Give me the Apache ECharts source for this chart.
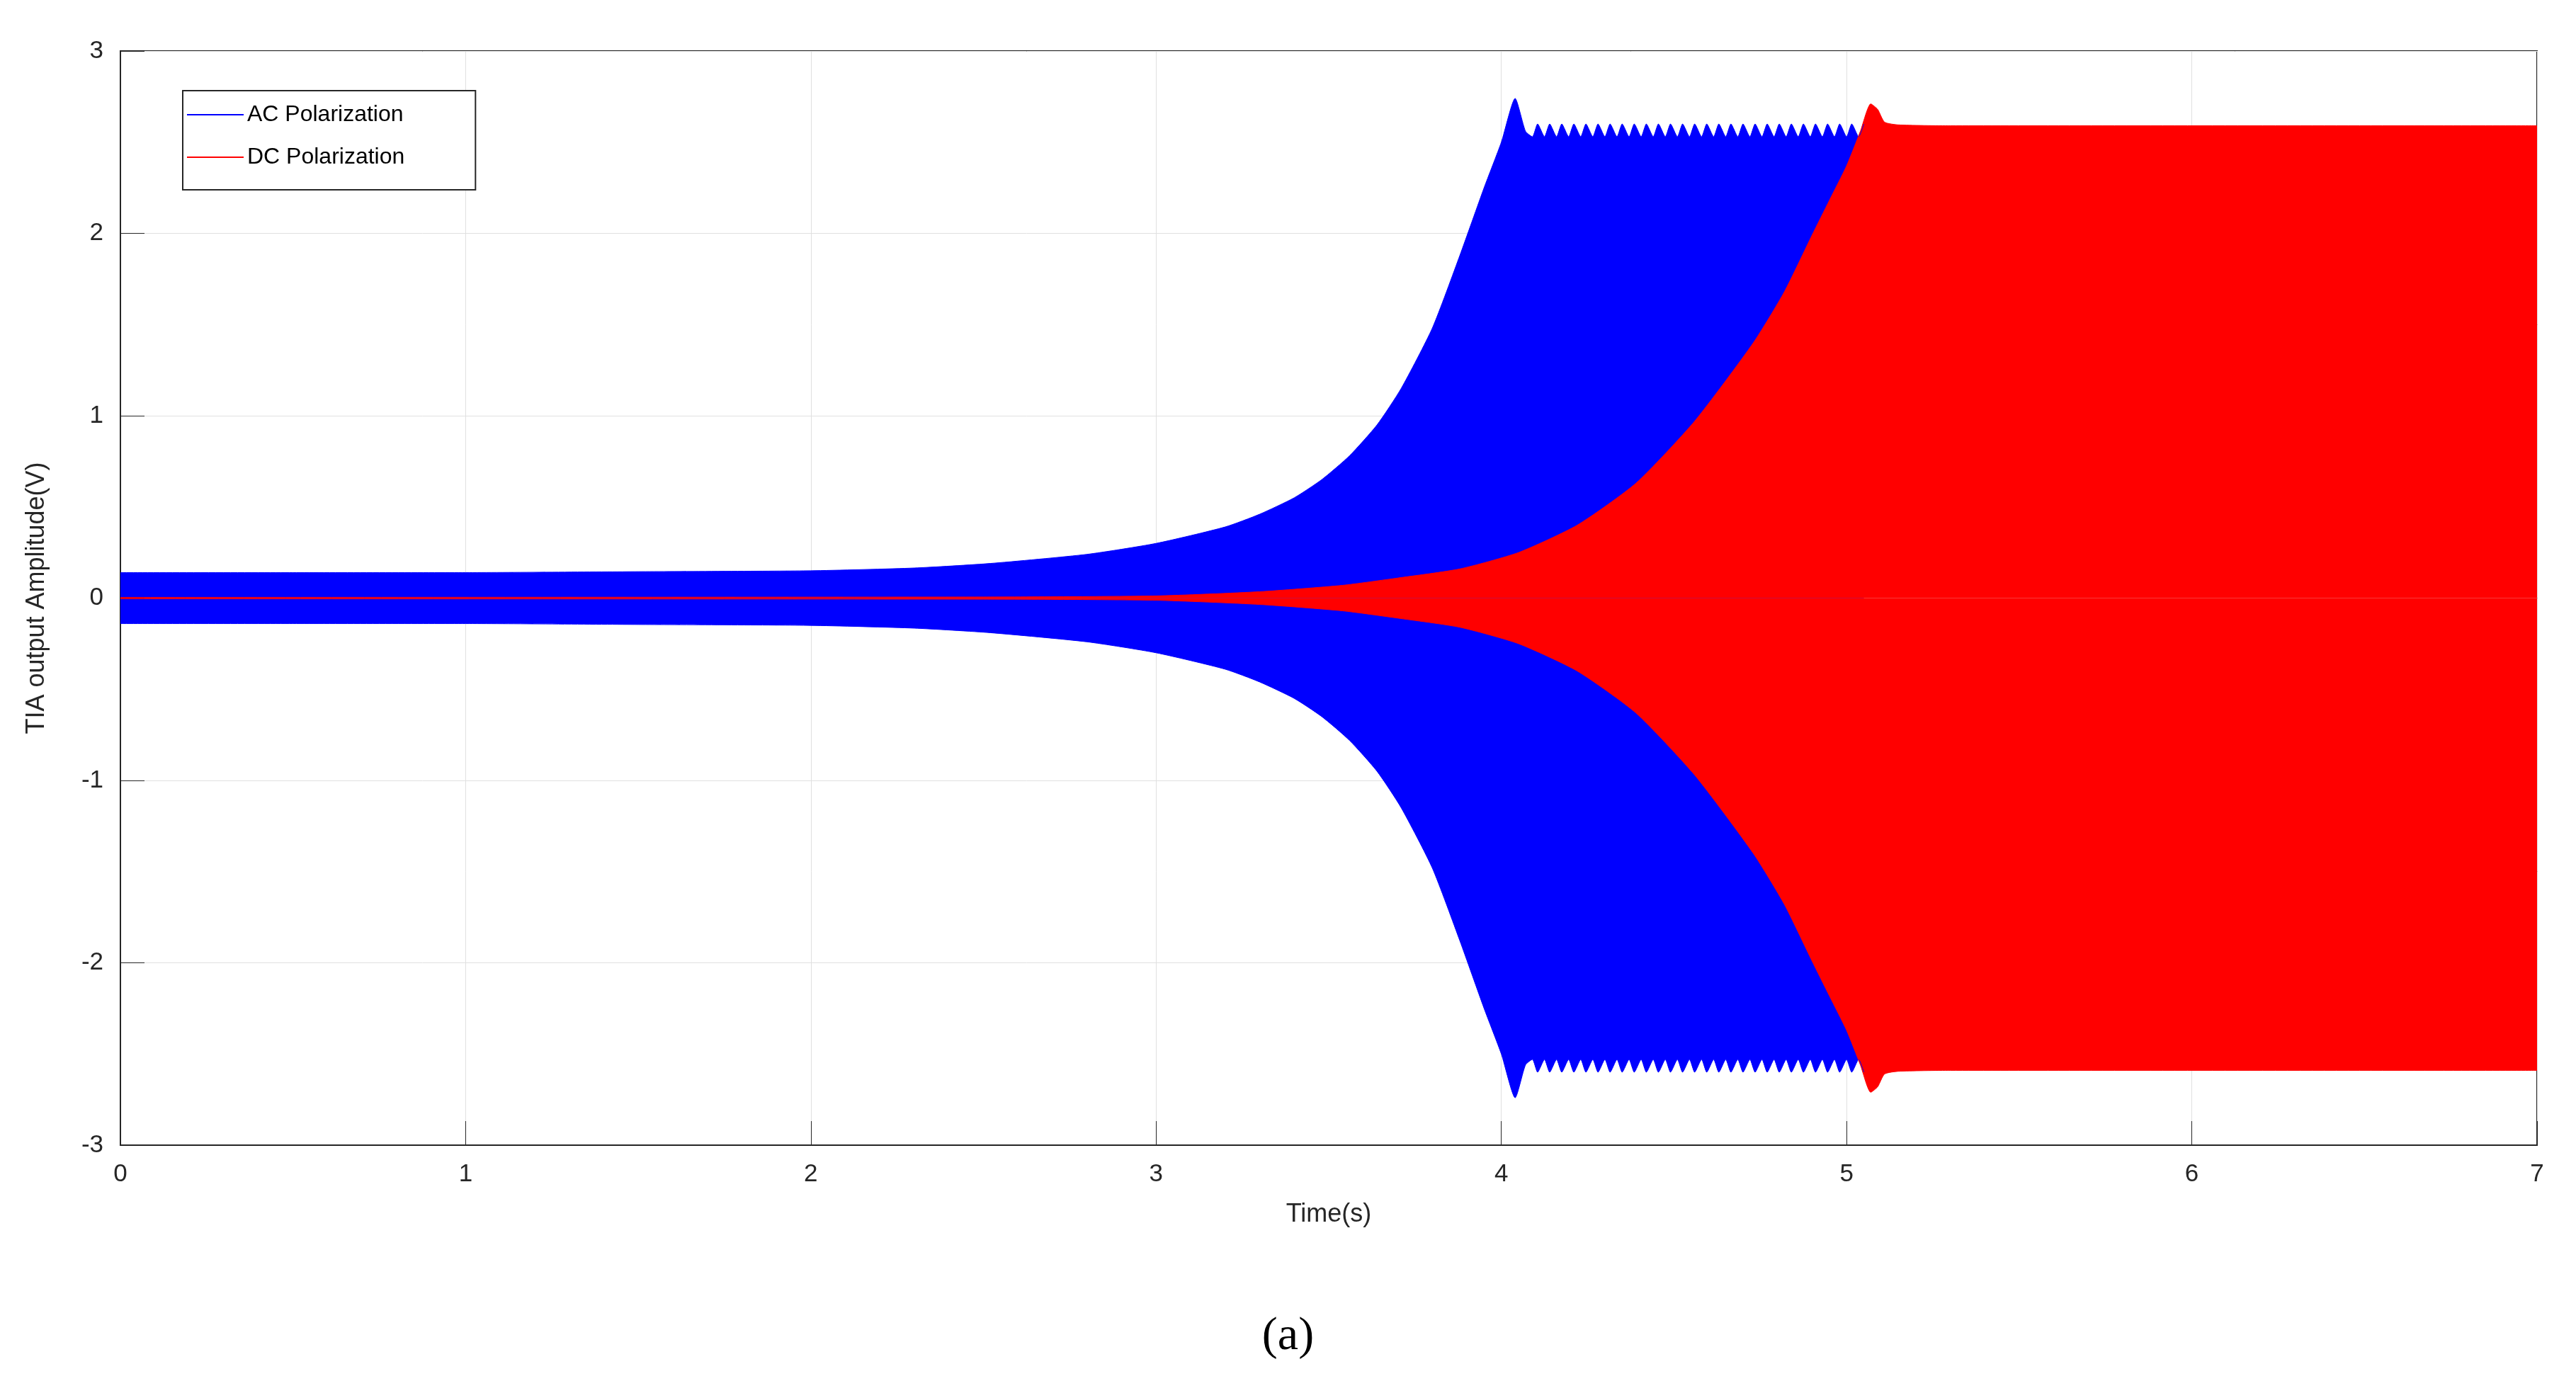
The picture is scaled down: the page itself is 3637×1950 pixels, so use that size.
<!DOCTYPE html>
<html>
<head>
<meta charset="utf-8">
<script src="https://cdn.jsdelivr.net/npm/echarts@6/dist/echarts.min.js"></script>
<style>
  html, body { margin: 0; padding: 0; background: #fff; }
  #chart { width: 3637px; height: 1950px; }
</style>
</head>
<body>
<div id="chart"></div>
<script>
// envelope of the AC polarization response (upper / lower)
const acTime = [0, 0.5, 1, 1.5, 2, 2.3, 2.52, 2.8, 3, 3.2, 3.3, 3.4, 3.48, 3.56, 3.64, 3.71, 3.8, 3.88, 3.95, 4.0, 4.04, 4.07,
  4.09, 4.105, 4.125, 4.14, 4.16, 4.175, 4.195, 4.21, 4.23, 4.245, 4.265, 4.28, 4.3, 4.315, 4.335, 4.35,
  4.37, 4.385, 4.405, 4.42, 4.44, 4.455, 4.475, 4.49, 4.51, 4.525, 4.545, 4.56, 4.58, 4.595, 4.615, 4.63,
  4.65, 4.665, 4.685, 4.7, 4.72, 4.735, 4.755, 4.77, 4.79, 4.805, 4.825, 4.84, 4.86, 4.875, 4.895, 4.91,
  4.93, 4.945, 4.965, 4.98, 5.0, 5.015, 5.035, 5.05];
const acUpper = [0.14, 0.14, 0.14, 0.145, 0.15, 0.165, 0.19, 0.24, 0.30, 0.39, 0.46, 0.55, 0.65, 0.78, 0.95, 1.15, 1.48, 1.88, 2.25, 2.5, 2.74, 2.56,
  2.53, 2.6, 2.53, 2.6, 2.53, 2.6, 2.53, 2.6, 2.53, 2.6, 2.53, 2.6, 2.53, 2.6, 2.53, 2.6,
  2.53, 2.6, 2.53, 2.6, 2.53, 2.6, 2.53, 2.6, 2.53, 2.6, 2.53, 2.6, 2.53, 2.6, 2.53, 2.6,
  2.53, 2.6, 2.53, 2.6, 2.53, 2.6, 2.53, 2.6, 2.53, 2.6, 2.53, 2.6, 2.53, 2.6, 2.53, 2.6,
  2.53, 2.6, 2.53, 2.6, 2.53, 2.6, 2.53, 2.6];
const acLower = [-0.14, -0.14, -0.14, -0.145, -0.15, -0.165, -0.19, -0.24, -0.30, -0.39, -0.46, -0.55, -0.65, -0.78, -0.95, -1.15, -1.48, -1.88, -2.25, -2.5, -2.74, -2.56,
  -2.53, -2.6, -2.53, -2.6, -2.53, -2.6, -2.53, -2.6, -2.53, -2.6, -2.53, -2.6, -2.53, -2.6, -2.53, -2.6,
  -2.53, -2.6, -2.53, -2.6, -2.53, -2.6, -2.53, -2.6, -2.53, -2.6, -2.53, -2.6, -2.53, -2.6, -2.53, -2.6,
  -2.53, -2.6, -2.53, -2.6, -2.53, -2.6, -2.53, -2.6, -2.53, -2.6, -2.53, -2.6, -2.53, -2.6, -2.53, -2.6,
  -2.53, -2.6, -2.53, -2.6, -2.53, -2.6, -2.53, -2.6];

// envelope of the DC polarization response
const dcTime = [0, 2.5, 3, 3.3, 3.54, 3.7, 3.88, 4.05, 4.22, 4.39, 4.56, 4.73, 4.82, 4.9, 4.95, 5.0, 5.04, 5.07, 5.09, 5.11, 5.15, 5.3, 7];
const dcUpper = [0.004, 0.006, 0.012, 0.035, 0.07, 0.11, 0.16, 0.25, 0.40, 0.63, 0.97, 1.40, 1.68, 1.99, 2.18, 2.37, 2.56, 2.71, 2.68, 2.61, 2.595, 2.59, 2.59];
const dcLower = [-0.004, -0.006, -0.012, -0.035, -0.07, -0.11, -0.16, -0.25, -0.40, -0.63, -0.97, -1.40, -1.68, -1.99, -2.18, -2.37, -2.56, -2.71, -2.68, -2.61, -2.595, -2.59, -2.59];

const xTicks = [0, 1, 2, 3, 4, 5, 6, 7];
const yTicks = [-3, -2, -1, 0, 1, 2, 3];

const pairs = (t, v) => t.map((x, i) => [x, v[i]]);

function envelope(name, color, t, v) {
  return {
    name: name,
    type: "line",
    data: pairs(t, v),
    symbol: "none",
    smooth: 0.2,
    lineStyle: { color: color, width: 1 },
    itemStyle: { color: color },
    areaStyle: { color: color, opacity: 1, origin: 0 },
    animation: false,
  };
}

const chart = echarts.init(document.getElementById("chart"));
const font = "Liberation Sans";

chart.setOption({
  backgroundColor: "#fff",
  grid: { left: 170, right: 55, top: 72, bottom: 333, show: true, borderColor: "#262626", borderWidth: 2 },
  legend: {
    left: 258, top: 128, orient: "vertical",
    itemWidth: 80, itemHeight: 2, itemGap: 28, padding: [18, 100, 30, 6],
    borderColor: "#262626", borderWidth: 2, backgroundColor: "#fff",
    icon: "rect",
    textStyle: { fontFamily: font, fontSize: 32, color: "#000" },
    data: ["AC Polarization", "DC Polarization"],
  },
  xAxis: {
    type: "value", min: xTicks[0], max: xTicks[xTicks.length - 1], interval: 1,
    name: "Time(s)", nameLocation: "middle", nameGap: 80,
    nameTextStyle: { fontFamily: font, fontSize: 36, color: "#262626" },
    axisLine: { onZero: false, lineStyle: { color: "#262626", width: 2 } },
    axisTick: { inside: true, length: 34, lineStyle: { color: "#262626" } },
    axisLabel: { fontFamily: font, fontSize: 35, color: "#262626", margin: 24 },
    splitLine: { show: true, lineStyle: { color: "#e0e0e0", width: 1 } },
  },
  yAxis: {
    type: "value", min: yTicks[0], max: yTicks[yTicks.length - 1], interval: 1,
    name: "TIA output Amplitude(V)", nameLocation: "middle", nameGap: 100,
    nameTextStyle: { fontFamily: font, fontSize: 36, color: "#262626" },
    axisLine: { lineStyle: { color: "#262626", width: 2 } },
    axisTick: { inside: true, length: 34, lineStyle: { color: "#262626" } },
    axisLabel: { fontFamily: font, fontSize: 35, color: "#262626", margin: 24, padding: [0, 0, 10, 0] },
    splitLine: { show: true, lineStyle: { color: "#e0e0e0", width: 1 } },
  },
  graphic: [{
    type: "text", left: "center", top: 1855,
    style: { text: "(a)", fontFamily: "Liberation Serif", fontSize: 66, fill: "#000" },
  }],
  series: [
    envelope("AC Polarization", "#0000ff", acTime, acUpper),
    envelope("AC Polarization", "#0000ff", acTime, acLower),
    envelope("DC Polarization", "#ff0000", dcTime, dcUpper),
    envelope("DC Polarization", "#ff0000", dcTime, dcLower),
  ],
});
</script>
</body>
</html>
